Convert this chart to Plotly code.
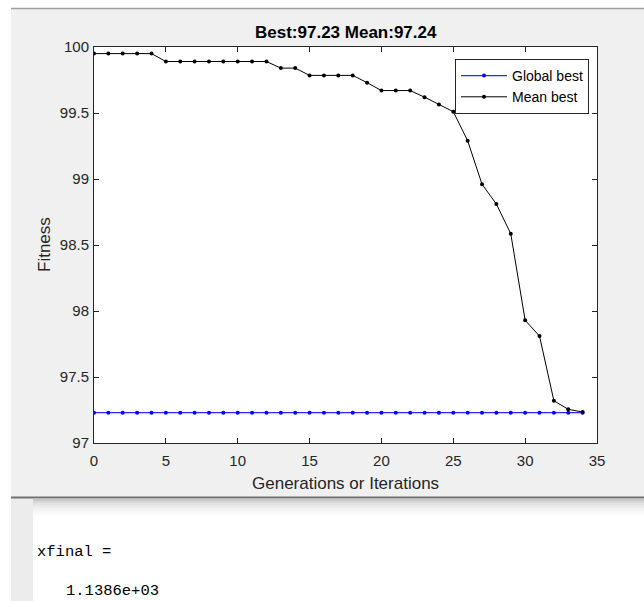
import plotly.graph_objects as go

# ---- data ----
iterations = list(range(35))
global_best = [97.23] * 35
mean_best = [99.95, 99.95, 99.95, 99.95, 99.95,
             99.89, 99.89, 99.89, 99.89, 99.89, 99.89, 99.89, 99.89,
             99.84, 99.84,
             99.785, 99.785, 99.785, 99.785,
             99.73, 99.67, 99.67, 99.67, 99.62, 99.565, 99.51,
             99.29, 98.96, 98.81, 98.585, 97.93, 97.81, 97.32, 97.255, 97.235]
x_ticks = [0, 5, 10, 15, 20, 25, 30, 35]
y_ticks = [97, 97.5, 98, 98.5, 99, 99.5, 100]
title_text = "Best:97.23 Mean:97.24"
console_lines = ["xfinal =", "1.1386e+03"]

# ---- layout geometry (pixels) ----
W, H = 644, 601
L, R, T, B = 94, 597, 47, 443
pw, ph = R - L, B - T

def px(x):
    return (x - L) / pw

def py(y):
    return (B - y) / ph

AX = "#262626"
FONT = "Liberation Sans, Arial, Helvetica, sans-serif"

fig = go.Figure()
fig.add_trace(go.Scatter(x=iterations, y=global_best, mode="lines+markers",
                         name="Global best",
                         line=dict(color="rgb(40,40,255)", width=1.3),
                         marker=dict(color="rgb(0,0,255)", size=4)))
fig.add_trace(go.Scatter(x=iterations, y=mean_best, mode="lines+markers",
                         name="Mean best",
                         line=dict(color="black", width=1),
                         marker=dict(color="black", size=4)))

axis_common = dict(showline=True, linecolor=AX, linewidth=1, mirror="ticks",
                   ticks="inside", ticklen=5, tickcolor=AX, showgrid=False,
                   zeroline=False, tickfont=dict(family=FONT, size=15, color=AX))

fig.update_xaxes(range=[0, 35], tickvals=x_ticks, ticklabelstandoff=4, **axis_common)
fig.update_yaxes(range=[97, 100], tickvals=y_ticks, ticklabelstandoff=1, **axis_common)

shapes = []
# left white strip and top white strip
shapes.append(dict(type="rect", xref="paper", yref="paper",
                   x0=px(0), x1=px(11), y0=py(H), y1=py(0),
                   fillcolor="white", line_width=0, layer="below"))
shapes.append(dict(type="rect", xref="paper", yref="paper",
                   x0=px(0), x1=px(W), y0=py(8), y1=py(0),
                   fillcolor="white", line_width=0, layer="below"))
shapes.append(dict(type="line", xref="paper", yref="paper",
                   x0=px(11), x1=px(W), y0=py(8.5), y1=py(8.5),
                   line=dict(color="#a0a0a0", width=1.5), layer="below"))
# bottom console area
shapes.append(dict(type="rect", xref="paper", yref="paper",
                   x0=px(11), x1=px(W), y0=py(H), y1=py(497),
                   fillcolor="white", line_width=0, layer="below"))
shapes.append(dict(type="rect", xref="paper", yref="paper",
                   x0=px(11), x1=px(33), y0=py(H), y1=py(497),
                   fillcolor="#ececec", line_width=0, layer="below"))
grad = ["#c8c8c8", "#d8d8d8", "#e2e2e2", "#e9e9e9", "#efefef", "#f4f4f4", "#f8f8f8", "#fbfbfb", "#fdfdfd"]
for i, c in enumerate(grad):
    shapes.append(dict(type="rect", xref="paper", yref="paper",
                       x0=px(33), x1=px(W), y0=py(499 + 2 * i + 2), y1=py(499 + 2 * i),
                       fillcolor=c, line_width=0, layer="below"))
shapes.append(dict(type="line", xref="paper", yref="paper",
                   x0=px(11), x1=px(W), y0=py(497.5), y1=py(497.5),
                   line=dict(color="#707070", width=2), layer="below"))

annotations = [
    dict(text="<b>" + title_text + "</b>", xref="paper", yref="paper",
         x=px((L + R) / 2), y=py(32.5), xanchor="center", yanchor="middle",
         showarrow=False, font=dict(family=FONT, size=17, color="black")),
    dict(text="Generations or Iterations", xref="paper", yref="paper",
         x=px((L + R) / 2), y=py(483), xanchor="center", yanchor="middle",
         showarrow=False, font=dict(family=FONT, size=17, color=AX)),
    dict(text="Fitness", xref="paper", yref="paper", textangle=-90,
         x=px(44), y=py((T + B) / 2), xanchor="center", yanchor="middle",
         showarrow=False, font=dict(family=FONT, size=17, color=AX)),
    dict(text=console_lines[0], xref="paper", yref="paper",
         x=px(35), y=py(552), xanchor="left", yanchor="middle",
         showarrow=False, font=dict(family="Liberation Mono, Courier New, monospace", size=15.5, color="black")),
    dict(text=console_lines[1], xref="paper", yref="paper",
         x=px(64), y=py(591), xanchor="left", yanchor="middle",
         showarrow=False, font=dict(family="Liberation Mono, Courier New, monospace", size=15.5, color="black")),
]

fig.update_layout(
    width=W, height=H,
    margin=dict(l=L, r=W - R, t=T, b=H - B, pad=0),
    paper_bgcolor="#f0f0f0", plot_bgcolor="white",
    showlegend=True,
    legend=dict(x=px(455), y=py(59), xanchor="left", yanchor="top",
                bgcolor="white", bordercolor=AX, borderwidth=1,
                font=dict(family=FONT, size=14, color="black"),
                itemwidth=46, tracegroupgap=0),
    shapes=shapes, annotations=annotations,
)

fig.write_html("out.html")
